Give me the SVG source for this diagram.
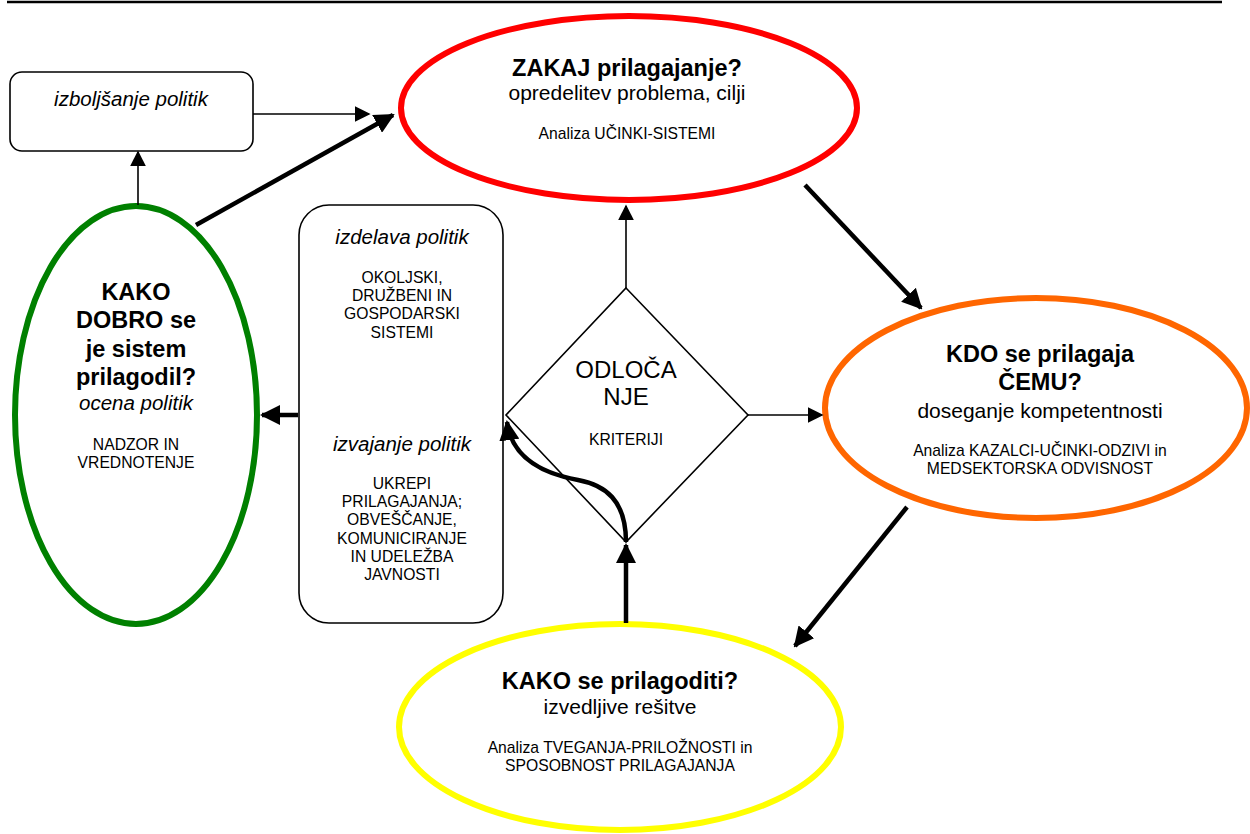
<svg xmlns="http://www.w3.org/2000/svg" width="1250" height="834" viewBox="0 0 1250 834">
<style>
text{font-family:"Liberation Sans",Arial,sans-serif;fill:#000;text-anchor:middle}
.b{font-weight:bold;font-size:23.5px}
.m{font-size:21px}
.s{font-size:15.7px}
.i{font-style:italic;font-size:20.5px}
.thin{stroke:#000;stroke-width:1.6;fill:none}
.thick{stroke:#000;stroke-width:4.5;fill:none}
.box{fill:#fff;stroke:#000;stroke-width:1.6}
</style>
<defs>
<marker id="ahb" viewBox="0 0 10 10" refX="9" refY="5" markerWidth="4.5" markerHeight="4.5" markerUnits="strokeWidth" orient="auto"><path d="M0,0 L10,5 L0,10 z" fill="#000"/></marker>
<marker id="ahm" viewBox="0 0 10 10" refX="9" refY="5" markerWidth="16" markerHeight="16" markerUnits="userSpaceOnUse" orient="auto"><path d="M0,0 L10,5 L0,10 z" fill="#000"/></marker>
</defs>
<line x1="7" y1="2" x2="1222" y2="2" stroke="#000" stroke-width="2.5"/>

<g id="izboljsanje">
<rect class="box" x="10" y="72" width="243" height="79" rx="12"/>
<text class="i" x="131" y="106">izboljšanje politik</text>
</g>

<g id="zakaj">
<ellipse cx="629" cy="108" rx="228" ry="92" fill="#fff" stroke="#FF0000" stroke-width="6"/>
<text class="b" x="627" y="76">ZAKAJ prilagajanje?</text>
<text class="m" x="627" y="100">opredelitev problema, cilji</text>
<text class="s" x="627" y="139">Analiza UČINKI-SISTEMI</text>
</g>

<g id="kako-dobro">
<ellipse cx="136" cy="415" rx="121" ry="209" fill="#fff" stroke="#008000" stroke-width="6"/>
<text class="b" x="136" y="300">KAKO</text>
<text class="b" x="136" y="328">DOBRO se</text>
<text class="b" x="136" y="357">je sistem</text>
<text class="b" x="136" y="385">prilagodil?</text>
<text class="i" x="136" y="410">ocena politik</text>
<text class="s" x="136" y="450">NADZOR IN</text>
<text class="s" x="136" y="468">VREDNOTENJE</text>
</g>

<g id="politike">
<rect class="box" x="299" y="205" width="204" height="418" rx="30"/>
<text class="i" x="402" y="244">izdelava politik</text>
<text class="s" x="402" y="283">OKOLJSKI,</text>
<text class="s" x="402" y="301">DRUŽBENI IN</text>
<text class="s" x="402" y="319">GOSPODARSKI</text>
<text class="s" x="402" y="338">SISTEMI</text>
<text class="i" x="402" y="451">izvajanje politik</text>
<text class="s" x="402" y="489">UKREPI</text>
<text class="s" x="402" y="507">PRILAGAJANJA;</text>
<text class="s" x="402" y="525">OBVEŠČANJE,</text>
<text class="s" x="402" y="544">KOMUNICIRANJE</text>
<text class="s" x="402" y="562">IN UDELEŽBA</text>
<text class="s" x="402" y="580">JAVNOSTI</text>
</g>

<g id="odlocanje">
<polygon points="626,288 748,415 626,542 506,415" fill="#fff" stroke="#000" stroke-width="1.6"/>
<text x="626" y="378" style="font-size:24px">ODLOČA</text>
<text x="626" y="405" style="font-size:24px">NJE</text>
<text class="s" x="626" y="445">KRITERIJI</text>
</g>

<g id="kdo">
<ellipse cx="1036" cy="408" rx="211" ry="110" fill="#fff" stroke="#FF6600" stroke-width="6"/>
<text class="b" x="1040" y="362">KDO se prilagaja</text>
<text class="b" x="1040" y="390">ČEMU?</text>
<text class="m" x="1040" y="418">doseganje kompetentnosti</text>
<text class="s" x="1040" y="456">Analiza KAZALCI-UČINKI-ODZIVI in</text>
<text class="s" x="1040" y="474">MEDSEKTORSKA ODVISNOST</text>
</g>

<g id="kako">
<ellipse cx="620" cy="727" rx="221" ry="103" fill="#fff" stroke="#FFFF00" stroke-width="6"/>
<text class="b" x="620" y="689">KAKO se prilagoditi?</text>
<text class="m" x="620" y="714">izvedljive rešitve</text>
<text class="s" x="620" y="753">Analiza TVEGANJA-PRILOŽNOSTI in</text>
<text class="s" x="620" y="771">SPOSOBNOST PRILAGAJANJA</text>
</g>

<g id="connectors">
<line class="thin" x1="253" y1="114" x2="369" y2="114" marker-end="url(#ahm)"/>
<line class="thin" x1="138" y1="205" x2="138" y2="152" marker-end="url(#ahm)"/>
<line class="thick" x1="196" y1="225" x2="393" y2="115" marker-end="url(#ahb)"/>
<line class="thick" x1="298" y1="415" x2="262" y2="415" marker-end="url(#ahb)"/>
<line class="thin" x1="626" y1="288" x2="626" y2="206" marker-end="url(#ahm)"/>
<line class="thin" x1="748" y1="415" x2="822" y2="415" marker-end="url(#ahm)"/>
<line class="thick" x1="805" y1="185" x2="921" y2="308" marker-end="url(#ahb)"/>
<line class="thick" x1="907" y1="507" x2="795" y2="646" marker-end="url(#ahb)"/>
<line class="thick" x1="626" y1="623" x2="626" y2="545" marker-end="url(#ahb)"/>
<path class="thick" d="M626,542 C626,500 605,485 578,480 C545,474 512,460 507,422" marker-end="url(#ahb)"/>
</g>
</svg>
